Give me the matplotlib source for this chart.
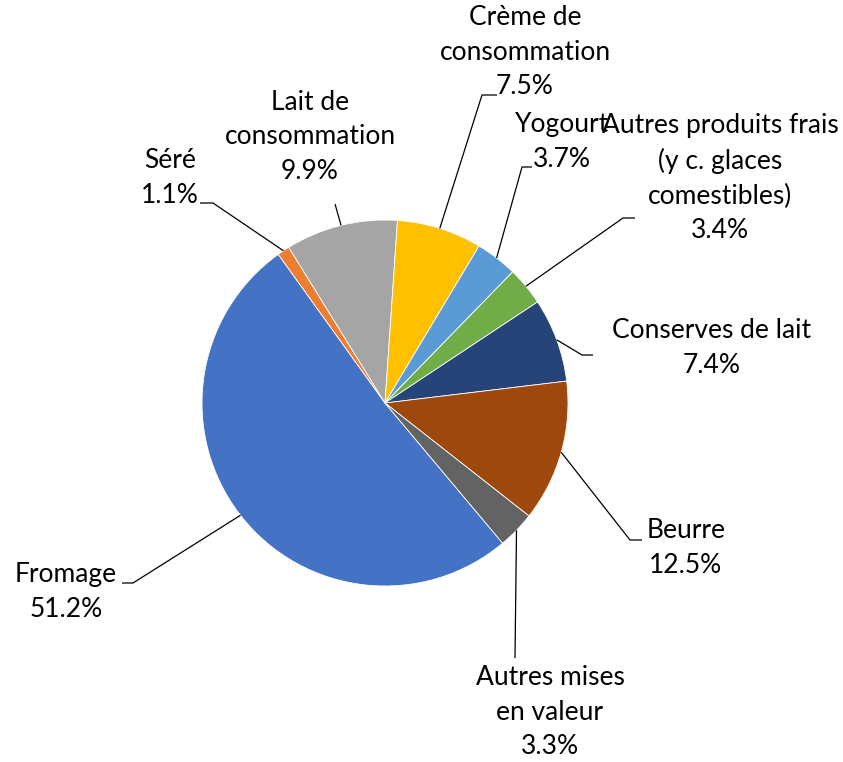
import numpy as np
import matplotlib.pyplot as plt

plt.rcParams['font.family'] = ['Lato', 'DejaVu Sans']

labels = ["Fromage", "Séré", "Lait de\nconsommation", "Crème de\nconsommation",
          "Yogourt", "Autres produits frais\n(y c. glaces\ncomestibles)",
          "Conserves de lait", "Beurre", "Autres mises\nen valeur"]
shares = [51.2, 1.1, 9.9, 7.5, 3.7, 3.4, 7.4, 12.5, 3.3]
colors = ["#4472C4", "#ED7D31", "#A5A5A5", "#FFC000", "#5B9BD5",
          "#70AD47", "#264478", "#9E480E", "#636363"]

# label layout in pixels (text centre, leader elbow, leader end)
text_pos = [(66, 592), (170, 178), (310, 137), (525, 52), (562, 142),
            (720, 178), (712, 348), (686, 548), (550, 712)]
elbows = [(133, 583), (213, 203), (335, 204), (482, 95), (522, 167),
          (623, 218), (582, 355), (630, 540), (515, 658)]
ends = [(122, 583), (200, 203), (335, 204), (497, 95), (532, 167),
        (635, 218), (593, 355), (642, 540), (515, 658)]

W, H = 843, 762
cx, cy, r = 385, 403, 183
start = -50

fig = plt.figure(figsize=(W / 100, H / 100), dpi=100)
ax = fig.add_axes([0, 0, 1, 1])
wedges, _ = ax.pie(shares, colors=colors, startangle=start, counterclock=False,
                   center=(cx, H - cy), radius=r,
                   wedgeprops=dict(edgecolor="white", linewidth=0.6))

for w, lab, s, tp, el, en in zip(wedges, labels, shares, text_pos, elbows, ends):
    mid = np.deg2rad((w.theta1 + w.theta2) / 2)
    ax_x = cx + r * np.cos(mid)
    ax_y = H - cy + r * np.sin(mid)
    ax.plot([ax_x, el[0], en[0]], [ax_y, H - el[1], H - en[1]],
            color="black", lw=0.9, solid_capstyle="butt")
    ax.text(tp[0], H - tp[1], f"{lab}\n{s:.1f}%", ha="center", va="center",
            fontsize=19, linespacing=1.48, color="black")

ax.set_xlim(0, W)
ax.set_ylim(0, H)
ax.set_aspect("equal")
ax.axis("off")
fig.savefig("out.png", dpi=100, facecolor="white")
